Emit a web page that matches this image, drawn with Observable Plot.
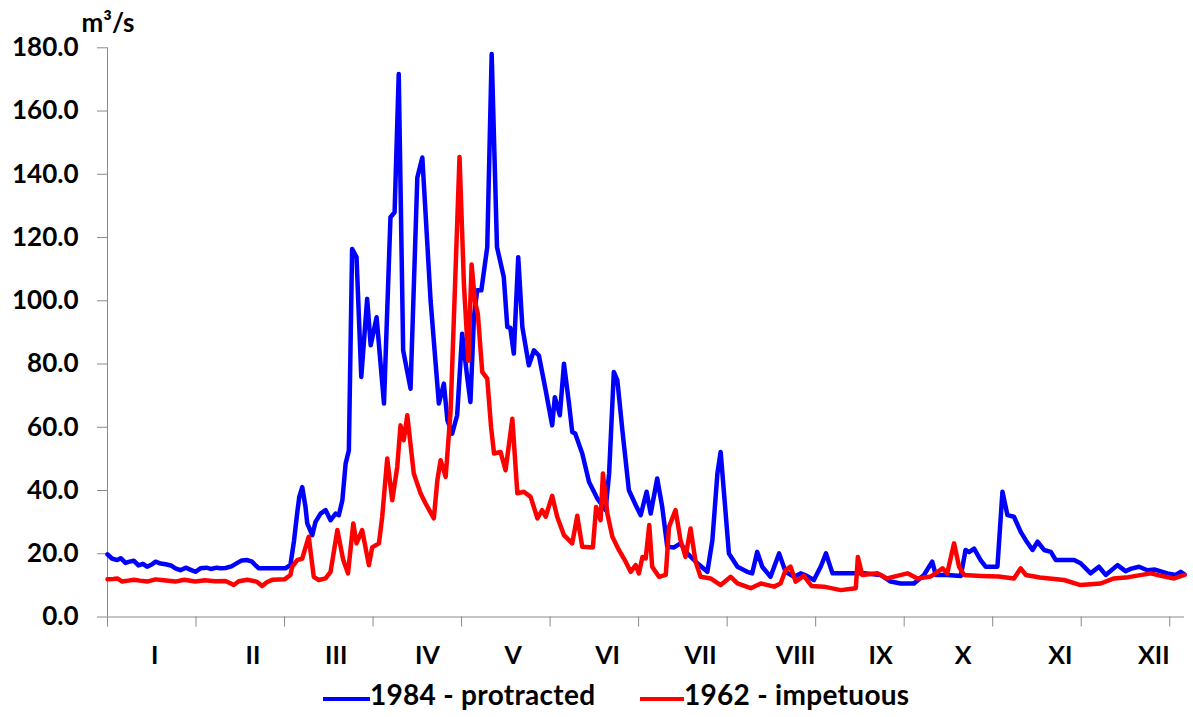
<!DOCTYPE html>
<html>
<head>
<meta charset="utf-8">
<script src="https://cdn.jsdelivr.net/npm/d3@7"></script>
<script src="https://cdn.jsdelivr.net/npm/@observablehq/plot@0.6"></script>
<style>
  html, body { margin: 0; padding: 0; background: #fff; }
  #wrap { width: 1193px; height: 717px; position: relative; overflow: hidden; font-family: Lato, "DejaVu Sans", sans-serif; }
  #legend { position: relative; height: 45px; width: 1193px; }
  .sw { position: absolute; height: 4px; top: 25px; }
  .lt { position: absolute; top: 6px; font-size: 28px; font-weight: 700; color: #000; line-height: 32px; white-space: nowrap; letter-spacing: 0.3px; }
</style>
</head>
<body>
<div id="wrap">
  <div id="chart"></div>
  <div id="legend"></div>
</div>
<script>
// ---- Data ----
// Day of year (0-based) and discharge (m3/s)
const days1984 = [0,1.5,3.3,4.5,6.1,7.5,8.9,10.5,12,13.4,15,16.3,18,19.7,21.5,23,24.7,26.5,28,29.8,31.5,33.5,35,37,38.3,40,42,44,45.5,47.4,49,50.3,51.3,55,58,60.3,62,63.2,64.3,65,66,67.1,67.7,69.4,70.5,72.2,73.9,75.6,77.3,78.4,79.6,80.7,81.8,82.9,84.4,86,88,89.2,91.2,93.7,95.9,97.3,98.7,100.2,102.7,105,106.7,109.5,112.3,114,115.2,116.8,118.5,120.2,121.9,123,124.2,125.3,126.7,128.7,130.2,132,134.3,135.5,136.5,137.7,139.2,140.6,142.8,144.5,146.2,148.5,150.7,151.6,153.3,154.7,156.4,157.5,158.5,160.9,163.2,166,168.8,170,171.6,172.8,174.5,176.7,179,180.7,182.7,184.1,186.3,188,189.7,192,194.2,196.5,199.9,203.3,205,206.7,207.8,208.9,210.6,213.5,216.8,218.5,220.2,221.9,224.7,227.6,229.8,232.7,234.9,237,239.4,241.7,243.5,245.7,250,256.4,262,265.4,268.8,273.3,276.7,279.5,280.7,284.6,289.2,290.8,292,293.7,295.9,297.6,301.6,303.3,305,307.2,309.5,311.2,313.5,315.2,317.4,319.7,321.4,327.6,329.8,333.2,336,338.3,342.3,345,347,349.6,352.4,355,359.2,362,363.7,365];
const flow1984 = [19.8,18.5,18.0,18.6,17.1,17.5,17.8,16.3,16.8,15.9,16.6,17.5,16.9,16.7,16.3,15.4,14.8,15.6,15.0,14.3,15.4,15.6,15.2,15.6,15.4,15.5,16.0,17.1,17.9,18.0,17.5,16.2,15.4,15.4,15.4,15.4,16.5,24,33,38,41.1,34.8,29.6,25.9,30.1,32.7,33.8,30.6,32.7,32.2,36.9,48.5,52.7,116.4,113.8,75.9,100.6,85.9,94.8,67.5,126.4,128,171.7,84.3,72.2,139,145.3,100,67.5,73.8,62.2,58,63.8,89.6,75.9,68,95,103.3,103.3,117,178,117,107.5,91.7,91.5,83.3,113.8,91.7,79.6,84.3,82.7,71.7,60.6,69.5,63.8,80.1,67.5,58.5,58,51.7,42.7,37.5,33.8,45.4,77.5,74.8,59,40.1,35.4,32.2,39.6,32.7,43.8,34.8,22.2,22,23.3,20.1,17,14.3,24.3,45.4,52.2,39.6,20.1,15.9,14.3,13.8,20.6,15.9,12.7,20.1,14.3,12.7,13.8,13.0,11.7,15.9,20.1,13.8,13.8,13.8,13.3,11.2,10.6,10.6,13.3,17.5,13.3,13.3,13.0,21.2,20.5,21.6,18,15.9,15.9,39.6,32.2,31.7,26.9,24.3,21.2,23.8,21.2,20.6,18,18,17,13.8,15.9,13.3,16.4,14.5,15.3,15.9,14.8,15,13.8,13.3,14.3,13.5];

const days1962 = [0,2,3.3,5,7,9,11,13.4,16.3,19,23,26,29.8,33,36.5,40,42.8,44.5,47.4,50.5,52.4,54,56,60,62,62.6,64.3,66,68.2,69.9,71.6,73.9,75.6,77.9,79.9,81.5,83.3,84.4,86.3,88.6,89.7,92,93.1,94.8,96.5,98.2,99.3,100.4,101.6,103.8,106.1,107.8,110.6,111.8,112.9,114.6,116.3,119.3,120.8,122.3,123.4,124.5,125.5,127,128.7,130,131,133.2,134.9,137.2,138.9,141.1,143.4,145.7,147.3,148.5,150.7,152.4,154.7,157.5,159.2,160.9,164.5,165.6,167.1,167.9,169.4,171.1,173.3,175.6,177.3,179,180.1,181.3,182.4,183.6,184.6,186.9,189.2,190.3,192.5,194.2,195.9,197.6,199.3,201,204.4,207.8,211.2,213.5,218,221.4,225.9,228.1,229.8,231.5,233.2,236,238.6,242.8,248.5,253.6,254.3,255.8,260.9,264.2,271.1,274.5,279,283,284.6,286.9,288.6,290.3,296,302,307.2,309.5,311.2,316,324.2,329.8,336.6,341.1,346,353.6,357,361.5,365];
const flow1962 = [11.9,12.0,12.2,11.2,11.5,11.8,11.5,11.2,11.9,11.6,11.2,11.8,11.2,11.6,11.3,11.4,10.1,11.3,11.8,11.2,9.8,11.0,11.8,11.9,13.3,15.9,18,18.5,25.4,12.7,11.7,12.2,14.3,27.5,18,13.8,29.6,23.3,27.5,16.4,22,23.3,31.7,50.1,36.9,47.5,60.6,55.9,63.8,45.4,39.1,35.9,31.2,43.3,49.6,44.3,65.4,145.5,105,81,111.5,100,96,77.5,75.4,60,51.7,52.2,46.4,62.7,39.1,39.6,38,31.2,33.8,31.7,38.3,31.7,25.9,23.3,32,22.2,22,34.8,30.6,45.4,32.7,25.4,21.2,17.5,14.3,16.4,13.8,19,18.5,29.1,15.9,12.7,13.3,28.5,33.8,24.3,19,28,17.5,12.7,12.2,10.1,12.7,10.6,9.1,10.6,9.6,10.6,14.8,15.9,11.2,13,9.8,9.6,8.5,9.1,19,13.3,13.8,12.2,13.8,12.2,12.8,15.4,13.8,23.3,15.9,13.3,13.0,12.8,12.2,15.4,13.3,12.5,11.7,10.1,10.6,12.2,12.6,13.8,13.0,12.2,13.3];

const seriesNames = ["1984 - protracted", "1962 - impetuous"];
const seriesColors = ["#0000ff", "#ff0000"];

const yTicks = [0, 20, 40, 60, 80, 100, 120, 140, 160, 180];
const monthTickDays = [0, 30, 60, 90, 120, 150, 180, 210, 240, 270, 300, 330, 360];
const monthLabels = ["I","II","III","IV","V","VI","VII","VIII","IX","X","XI","XII"];
const monthLabelDays = [16, 49.3, 77.5, 108.4, 137.5, 169.5, 201, 233.2, 262, 290, 322.9, 354.6];
const unitLabel = "m³/s";

// ---- Build tables ----
const s1984 = days1984.map((d, i) => ({day: d, q: flow1984[i]}));
const s1962 = days1962.map((d, i) => ({day: d, q: flow1962[i]}));
const labelByDay = new Map(monthLabelDays.map((d, i) => [d, monthLabels[i]]));

const FONT = "Lato, 'DejaVu Sans', sans-serif";

const chart = Plot.plot({
  width: 1193,
  height: 672,
  marginLeft: 107,
  marginRight: 9,
  marginTop: 47.3,
  marginBottom: 55.5,
  style: {fontFamily: FONT, color: "#000", background: "#fff", overflow: "visible"},
  x: {domain: [0, 365], axis: null},
  y: {domain: [0, 180], axis: null},
  marks: [
    Plot.ruleX([0], {stroke: "#8a8a8a", strokeWidth: 1}),
    Plot.ruleY([0], {stroke: "#8a8a8a", strokeWidth: 1}),
    Plot.axisY({ticks: yTicks, tickSize: 10, tickPadding: 19, stroke: "#8a8a8a", fill: "#000",
      tickFormat: d3.format(".1f"), fontSize: 26, fontWeight: 700, label: null}),
    Plot.axisX({ticks: monthTickDays, tickSize: 10, stroke: "#8a8a8a", tickFormat: () => "", label: null}),
    Plot.axisX({ticks: monthLabelDays, tickSize: 0, tickPadding: 29, fill: "#000",
      tickFormat: d => labelByDay.get(d), fontSize: 25, fontWeight: 700, label: null}),
    Plot.line(s1984, {x: "day", y: "q", stroke: seriesColors[0], strokeWidth: 4.5, strokeLinejoin: "round", strokeLinecap: "round"}),
    Plot.line(s1962, {x: "day", y: "q", stroke: seriesColors[1], strokeWidth: 4.5, strokeLinejoin: "round", strokeLinecap: "round"}),
    Plot.text([unitLabel], {frameAnchor: "top-left", dx: -26, dy: -16, textAnchor: "start", lineAnchor: "bottom",
      fontSize: 26, fontWeight: 700, fill: "#000"})
  ]
});
document.getElementById("chart").appendChild(chart);

// ---- Legend ----
const legend = document.getElementById("legend");
const legendPos = [{sw: 323, swW: 47, tx: 370}, {sw: 640, swW: 44, tx: 684}];
seriesNames.forEach((name, i) => {
  const sw = document.createElement("div");
  sw.className = "sw";
  sw.style.left = legendPos[i].sw + "px";
  sw.style.width = legendPos[i].swW + "px";
  sw.style.background = seriesColors[i];
  legend.appendChild(sw);
  const t = document.createElement("div");
  t.className = "lt";
  t.style.left = legendPos[i].tx + "px";
  t.textContent = name;
  legend.appendChild(t);
});
</script>
</body>
</html>
